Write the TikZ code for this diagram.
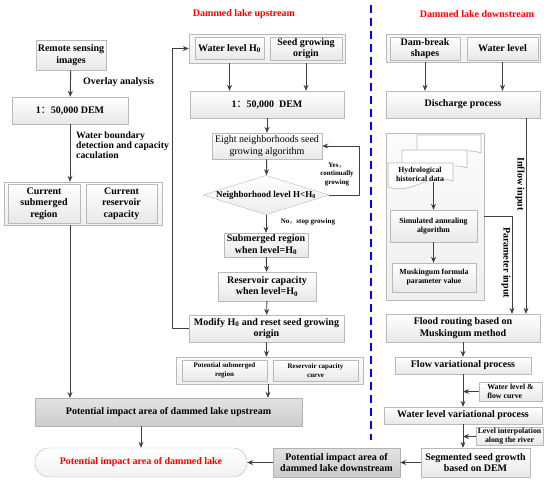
\documentclass[tikz,border=0pt]{standalone}
\usepackage{fontspec}
\setmainfont{Liberation Serif}
\newfontfamily\cjk{Noto Sans CJK SC}
\usetikzlibrary{shapes.geometric,arrows.meta}
\newcommand\fbig{\fontsize{10}{11.5}\selectfont\bfseries}
\newcommand\fsmall{\fontsize{7.8}{9}\selectfont\bfseries}
\newcommand\ftiny{\fontsize{7}{8.5}\selectfont\bfseries}
\newcommand\fw[1]{{\cjk\mdseries #1}}
\tikzset{
  box/.style={draw=gray!55,top color=white,bottom color=gray!18,font=\fbig,align=center,inner sep=1pt},
  grp/.style={draw=gray!55,top color=gray!3,bottom color=gray!12,inner sep=0pt},
  dark/.style={draw=gray!60,top color=gray!22,bottom color=gray!40,font=\fbig,align=center,inner sep=1pt},
  title/.style={text=red,font=\fbig},
  lbl/.style={font=\fbig,align=left,inner sep=0pt},
  line/.style={draw=black!75,line width=0.9pt},
  arr/.style={line,->},
  doc/.style={draw=gray!55,fill=white,line width=0.6pt},
}
\begin{document}
\begin{tikzpicture}[x=1pt,y=-1pt,>={Stealth[length=6pt,width=5pt]},line join=round]
\useasboundingbox (0,0) rectangle (550,482);
\node[title] (tup) at (244,14) {Dammed lake upstream};
\node[title] (tdown) at (477,14) {Dammed lake downstream};
\draw[blue,line width=1.6pt,dash pattern=on 8pt off 5pt] (371,5) -- (371,440);

% current situation
\node[box,minimum width=70,minimum height=30] (rs) at (71,55) {Remote sensing\\images};
\node[box,minimum width=116,minimum height=27] (dem1) at (70,110.5) {1\fw{：}50,000 DEM};
\node[grp,minimum width=158,minimum height=43] (cur) at (83,203.5) {};
\node[box,minimum width=72,minimum height=39] (csub) at (44,203.5) {Current\\submerged\\region};
\node[box,minimum width=71,minimum height=39] (cres) at (121.5,203.5) {Current\\reservoir\\capacity};
\node[lbl,anchor=west] (lov) at (83,82) {Overlay analysis};
\node[lbl,anchor=north west,font=\fontsize{9.7}{9.8}\selectfont\bfseries] (lwb) at (76,132) {Water boundary\\detection and capacity\\caculation};
\draw[arr] (rs) -- (dem1);
\draw[arr] (dem1) -- (dem1.south |- cur.north);
\draw[arr] (dem1.south |- cur.south) -- (dem1.south |- 0,398);

% upstream
\node[grp,minimum width=156,minimum height=29] (topgrp) at (267,48.5) {};
\node[box,minimum width=69,minimum height=22] (wl0) at (229.5,48.5) {Water level H\textsubscript{0}};
\node[box,minimum width=72,minimum height=23,font=\fontsize{10}{10.5}\selectfont\bfseries] (seed) at (306,48.5) {Seed growing\\origin};
\node[box,minimum width=154,minimum height=27] (dem2) at (267,104.5) {1\fw{：}50,000 \ DEM};
\node[box,minimum width=110,minimum height=26,font=\fontsize{10}{11.5}\selectfont] (eight) at (267,146) {Eight neighborhoods seed\\growing algorithm};
\node[draw=gray!55,top color=white,bottom color=gray!15,shape=diamond,aspect=3.2,inner sep=0pt,font=\fsmall\fontsize{9}{10}\selectfont] (diam) at (266,195) {Neighborhood level H<H\textsubscript{0}};
\node[box,minimum width=84,minimum height=24] (sub) at (266,245) {Submerged region\\when level=H\textsubscript{0}};
\node[box,minimum width=98,minimum height=29] (resv) at (267,286.5) {Reservoir capacity\\when level=H\textsubscript{0}};
\node[box,minimum width=155,minimum height=27] (modify) at (266.5,328.5) {Modify H\textsubscript{0} and reset seed growing\\origin};
\node[grp,minimum width=187,minimum height=27] (potgrp) at (269.5,370.5) {};
\node[box,minimum width=85,minimum height=21,font=\ftiny] (psub) at (224.5,370.5) {Potential submerged\\region};
\node[box,minimum width=85,minimum height=21,font=\ftiny] (pcurve) at (315.5,370.5) {Reservoir capacity\\curve};
\node[lbl,align=center,font=\ftiny] (lyes) at (337,174) {Yes\fw{，}\\continually\\growing};
\node[lbl,font=\ftiny] (lno) at (308,222) {No\fw{，}stop growing};
\draw[arr] (wl0.south |- topgrp.south) -- (wl0.south |- dem2.north);
\draw[arr] (seed.south |- topgrp.south) -- (seed.south |- dem2.north);
\draw[arr] (dem2) -- (eight);
\draw[arr] (eight) -- (diam);
\draw[arr] (diam.east) -- ++(30,0) |- (eight.east);
\draw[arr] (diam) -- (sub);
\draw[arr] (sub) -- (resv);
\draw[arr] (resv) -- (modify);
\draw[arr] (modify.west) -- ++(-16,0) |- (topgrp.west);
\draw[arr] (modify) -- (modify.south |- potgrp.north);

% results
\node[dark,minimum width=267,minimum height=28] (upimp) at (168.5,412) {Potential impact area of dammed lake upstream};
\node[draw=gray!60,top color=white,bottom color=gray!10,rounded corners=14pt,minimum width=212,minimum height=29,text=red,font=\fbig] (final) at (141,462.5) {Potential impact area of dammed lake};
\node[dark,minimum width=127,minimum height=29] (downimp) at (336.5,462.5) {Potential impact area of\\dammed lake downstream};
\draw[arr] (potgrp.south -| 268,0) -- (268,0 |- upimp.north);
\draw[arr] (final.north |- upimp.south) -- (final.north);
\draw[arr] (downimp) -- (final);

% downstream
\node[grp,minimum width=154,minimum height=28] (dtop) at (463,48) {};
\node[box,minimum width=70,minimum height=23,font=\fontsize{10}{10.5}\selectfont\bfseries] (dam) at (425,48.5) {Dam-break\\shapes};
\node[box,minimum width=71,minimum height=23] (wlev) at (502.5,48.5) {Water level};
\node[box,minimum width=154,minimum height=27] (disc) at (463,104.5) {Discharge process};
\node[grp,minimum width=98,minimum height=167] (mgrp) at (435,216.5) {};
\draw[doc] (417,135) -- (481,135) -- (481,153) .. controls (455,144) and (442,167) .. (417,159) -- cycle;
\draw[doc] (402,150) -- (467,150) -- (467,168) .. controls (441,159) and (428,182) .. (402,174) -- cycle;
\draw[doc] (388,163) -- (453,163) -- (453,181) .. controls (427,172) and (414,195) .. (388,187) -- cycle;
\node[align=center,font=\fsmall,inner sep=1pt] (hydro) at (420,174) {Hydrological\\historical data};
\node[box,minimum width=87,minimum height=32,font=\fsmall] (sa) at (433.5,226) {Simulated annealing\\algorithm};
\node[box,minimum width=84,minimum height=29,font=\fsmall] (musk) at (434,277.5) {Muskingum formula\\parameter value};
\node[box,minimum width=154,minimum height=28] (flood) at (463,328) {Flood routing based on\\Muskingum method};
\node[box,minimum width=136,minimum height=17] (flow) at (463,365.5) {Flow variational process};
\node[box,minimum width=63,minimum height=19,font=\fsmall,align=left] (wlfc) at (510.5,391.5) {Water level \&\\flow curve};
\node[box,minimum width=158,minimum height=17] (wlvp) at (463,415.5) {Water level variational process};
\node[box,minimum width=67,minimum height=17,font=\fsmall] (lint) at (509.5,436.5) {Level interpolation\\along the river};
\node[box,minimum width=109,minimum height=29] (seg) at (475.5,462.5) {Segmented seed growth\\based on DEM};
\node[lbl,rotate=-90] (linf) at (520,184) {Inflow input};
\node[lbl,rotate=-90] (lpar) at (506,262.5) {Parameter input};
\draw[arr] (dam.south |- dtop.south) -- (dam.south |- disc.north);
\draw[arr] (wlev.south |- dtop.south) -- (wlev.south |- disc.north);
\draw[arr] ([xshift=63]disc.south) -- ([xshift=63]disc.south |- flood.north);
\draw[arr] (mgrp.east) -| ([xshift=49]flood.north);
\draw[arr] (hydro.south -| sa.north) -- (sa.north);
\draw[arr] (sa) -- (sa.south |- musk.north);
\draw[arr] (flood) -- (flow);
\draw[arr] (flow) -- (wlvp);
\draw[arr] (wlfc.west) -- (wlfc.west -| flow.south);
\draw[arr] (wlvp.south) -- (wlvp.south |- seg.north);
\draw[arr] (lint.west) -- (lint.west -| wlvp.south);
\draw[arr] (seg) -- (downimp);
\end{tikzpicture}
\end{document}
